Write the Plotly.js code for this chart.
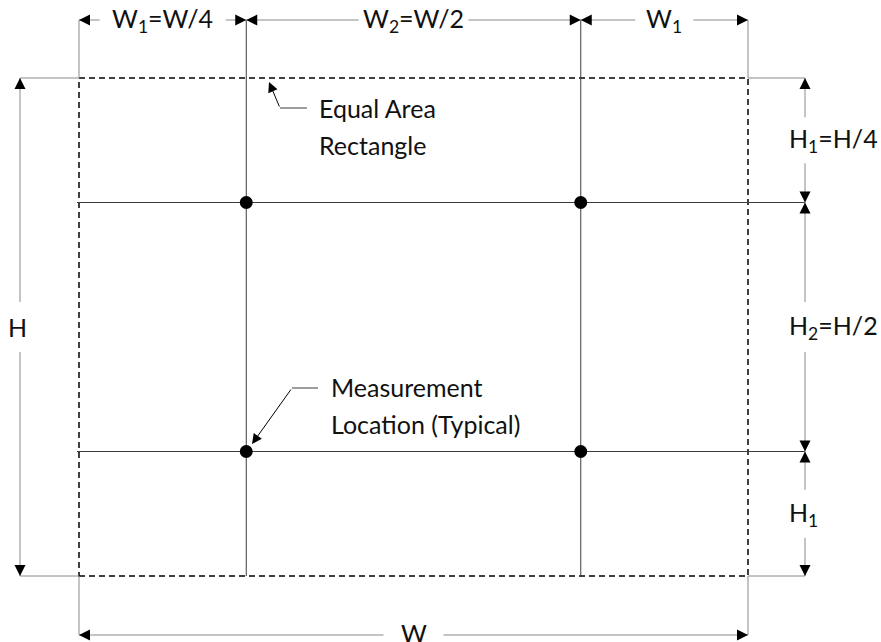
<!DOCTYPE html>
<html>
<head>
<meta charset="utf-8">
<script src="https://cdn.plot.ly/plotly-3.0.1.min.js"></script>
<style>html,body{margin:0;padding:0;background:#fff;}#chart{width:881px;height:642px;}</style>
</head>
<body>
<div id="chart"></div>
<script>
// ---- Data (fractions of the equal-area rectangle, W = 1, H = 1) ----
const widthParts = [0.25, 0.5, 0.25];
const widthLabels = ['W<sub>1</sub>=W/4', 'W<sub>2</sub>=W/2', 'W<sub>1</sub>'];
const heightParts = [0.25, 0.5, 0.25];            // top to bottom
const heightLabels = ['H<sub>1</sub>=H/4', 'H<sub>2</sub>=H/2', 'H<sub>1</sub>'];
const totalLabels = ['W', 'H'];
const pointX = [0.25, 0.75, 0.25, 0.75];
const pointY = [0.75, 0.75, 0.25, 0.25];
const calloutLabels = [['Equal Area', 'Rectangle'], ['Measurement', 'Location (Typical)']];

// ---- Layout helpers (page pixels -> diagram units) ----
const PX_X0 = 79, PX_X1 = 748, PX_Y0 = 576, PX_Y1 = 78;
const sx = PX_X1 - PX_X0, sy = PX_Y0 - PX_Y1;
const ux = p => (p - PX_X0) / sx;
const uy = p => (PX_Y0 - p) / sy;
const dx = p => p / sx, dy = p => p / sy;   // pixel lengths -> units

const TOP_DIM = uy(20), BOTTOM_DIM = uy(635), LEFT_DIM = ux(20), RIGHT_DIM = ux(805);
const FONT = {family: 'Lato, "Open Sans", sans-serif', size: 25, color: '#111'};
const GREY = '#8a8a8a', DARK = '#3c3c3c';
// half-width of the gap left in each dimension line for its label (pixels)
const TOP_GAPS = [63, 55, 29], RIGHT_GAPS = [23, 25, 24], LEFT_GAP = 25, BOTTOM_GAP = 30;

// boundaries
const xb = [0]; widthParts.forEach(w => xb.push(xb[xb.length - 1] + w));
const yb = [1]; heightParts.forEach(h => yb.push(yb[yb.length - 1] - h));

const shapes = [];
const line = (x0, y0, x1, y1, color) => shapes.push({
  type: 'line', xref: 'x', yref: 'y', x0, y0, x1, y1, layer: 'below',
  line: {color, width: 1}
});

// equal-area rectangle (dashed)
shapes.push({type: 'rect', xref: 'x', yref: 'y', x0: 0, x1: 1, y0: 0, y1: 1, layer: 'below',
  line: {color: '#000', width: 1.5, dash: '6px,4px'}});

// inner grid lines
xb.slice(1, -1).forEach(x => line(x, 0, x, TOP_DIM, DARK));
yb.slice(1, -1).forEach(y => line(ux(77), y, RIGHT_DIM, y, DARK));

// extension lines
line(0, 1, 0, TOP_DIM, GREY); line(1, 1, 1, TOP_DIM, GREY);
line(0, 0, 0, BOTTOM_DIM, GREY); line(1, 0, 1, BOTTOM_DIM, GREY);
line(LEFT_DIM, 1, 0, 1, GREY); line(1, 1, RIGHT_DIM, 1, GREY);
line(LEFT_DIM, 0, 0, 0, GREY); line(1, 0, RIGHT_DIM, 0, GREY);

const annotations = [];
const head = (x, y, ax, ay, size) => annotations.push({
  x, y, xref: 'x', yref: 'y', ax, ay, text: '', showarrow: true,
  arrowhead: 2, arrowsize: size || 2.2, arrowwidth: 1, arrowcolor: '#000', standoff: 0
});
const label = (x, y, text, xanchor) => annotations.push({
  x, y, xref: 'x', yref: 'y', text, showarrow: false, xanchor: xanchor || 'center',
  yanchor: 'middle', font: FONT
});

// horizontal dimension with a gap for the label
const hDim = (a, b, y, gap, text, ly) => {
  const m = (a + b) / 2;
  line(a, y, m - dx(gap), y, GREY); line(m + dx(gap), y, b, y, GREY);
  head(a, y, 12, 0); head(b, y, -12, 0);
  label(m, ly === undefined ? y : ly, text);
};
const vDim = (top, bottom, x, gap, text, lx, anchor) => {
  const m = (top + bottom) / 2;
  line(x, top, x, m + dy(gap), GREY); line(x, m - dy(gap), x, bottom, GREY);
  head(x, top, 0, 12); head(x, bottom, 0, -12);
  label(lx, m, text, anchor);
};

widthParts.forEach((w, i) => hDim(xb[i], xb[i + 1], TOP_DIM, TOP_GAPS[i], widthLabels[i]));
heightParts.forEach((h, i) => vDim(yb[i], yb[i + 1], RIGHT_DIM, RIGHT_GAPS[i], heightLabels[i], ux(787), 'left'));
hDim(0, 1, BOTTOM_DIM, BOTTOM_GAP, totalLabels[0], uy(633));
vDim(1, 0, LEFT_DIM, LEFT_GAP, totalLabels[1], ux(17), 'center');

// callouts
line(ux(307), uy(108), ux(280), uy(108), DARK);
annotations.push({x: ux(269), y: uy(82), xref: 'x', yref: 'y', ax: ux(280), ay: uy(108),
  axref: 'x', ayref: 'y', text: '', showarrow: true, arrowhead: 2, arrowsize: 2,
  arrowwidth: 1, arrowcolor: '#000', standoff: 0});
calloutLabels[0].forEach((t, i) => annotations.push({x: ux(317), y: uy(108 + 37 * i), xref: 'x', yref: 'y',
  text: t, showarrow: false, xanchor: 'left', yanchor: 'middle', font: FONT}));

line(ux(318), uy(388), ux(292), uy(388), DARK);
annotations.push({x: ux(252), y: uy(444), xref: 'x', yref: 'y', ax: ux(292), ay: uy(388),
  axref: 'x', ayref: 'y', text: '', showarrow: true, arrowhead: 2, arrowsize: 2,
  arrowwidth: 1, arrowcolor: '#000', standoff: 0});
calloutLabels[1].forEach((t, i) => annotations.push({x: ux(329), y: uy(387 + 37 * i), xref: 'x', yref: 'y',
  text: t, showarrow: false, xanchor: 'left', yanchor: 'middle', font: FONT}));

const traces = [{
  type: 'scatter', mode: 'markers', x: pointX, y: pointY,
  marker: {color: '#000', size: 13}, hoverinfo: 'skip', showlegend: false
}];

const layout = {
  width: 881, height: 642, margin: {l: 0, r: 0, t: 0, b: 0},
  paper_bgcolor: '#fff', plot_bgcolor: '#fff', showlegend: false,
  xaxis: {range: [ux(0), ux(881)], visible: false, fixedrange: true},
  yaxis: {range: [uy(642), uy(0)], visible: false, fixedrange: true},
  shapes, annotations
};
Plotly.newPlot('chart', traces, layout, {staticPlot: true, displayModeBar: false});
</script>
</body>
</html>
